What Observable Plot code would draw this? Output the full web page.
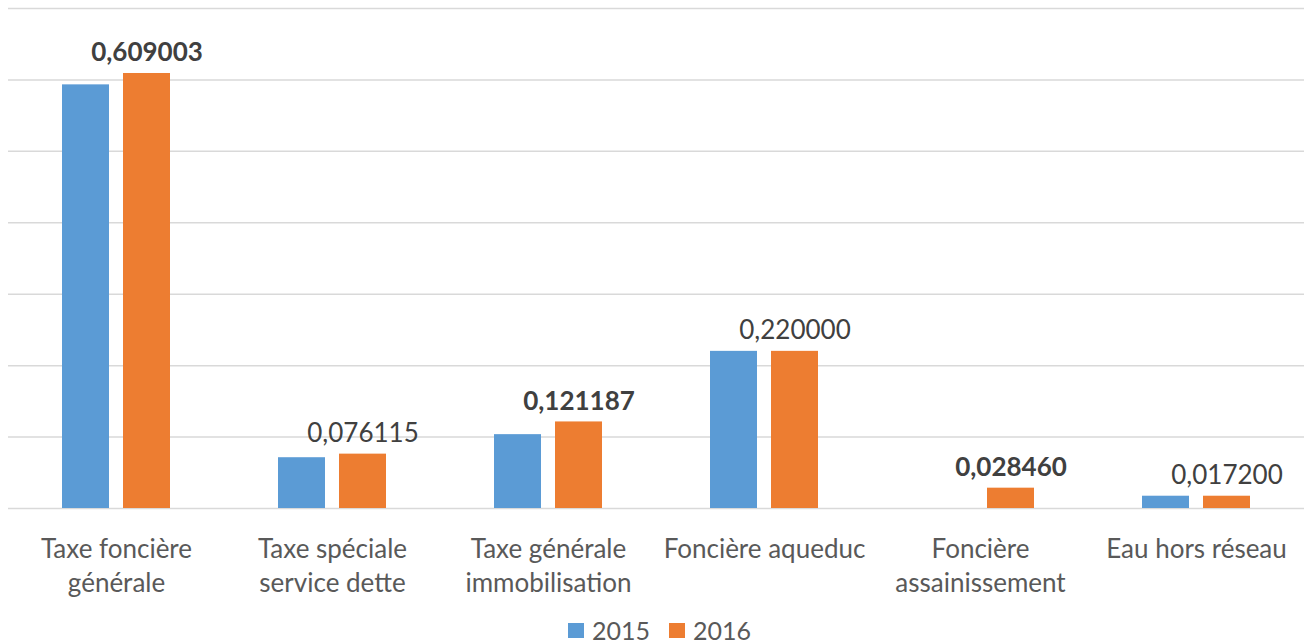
<!DOCTYPE html>
<html><head><meta charset="utf-8">
<script src="https://cdn.jsdelivr.net/npm/d3@7"></script>
<script src="https://cdn.jsdelivr.net/npm/@observablehq/plot@0.6"></script>
<style>
html,body{margin:0;padding:0;background:#fff;overflow:hidden;}
#chart{position:absolute;left:0;top:0;}
#legend{position:absolute;left:568px;top:616px;height:28px;line-height:28px;display:flex;align-items:center;font-family:Lato,"Open Sans",sans-serif;font-size:25px;color:#595959;}
#legend .sw{width:16px;height:15px;display:inline-block;margin-right:8px;}
#legend .item{display:flex;align-items:center;margin-right:19px;}
</style></head><body>
<div id="chart"></div>
<div id="legend"></div>
<script>
const categories = ["Taxe foncière générale","Taxe spéciale service dette","Taxe générale immobilisation","Foncière aqueduc","Foncière assainissement","Eau hors réseau"];
const tickLabels = ["Taxe foncière\ngénérale","Taxe spéciale\nservice dette","Taxe générale\nimmobilisation","Foncière aqueduc","Foncière\nassainissement","Eau hors réseau"];
const years = ["2015","2016"];
const values2015 = [0.5931, 0.0711, 0.1034, 0.220000, 0, 0.0172];
const values2016 = [0.609003, 0.076115, 0.121187, 0.220000, 0.028460, 0.017200];
const gridValues = [0, 0.1, 0.2, 0.3, 0.4, 0.5, 0.6, 0.7];
const boldCategories = ["Taxe foncière générale","Taxe générale immobilisation","Foncière assainissement"];

const colors = ["#5b9bd5", "#ed7d31"];
const rows = [];
categories.forEach((c, i) => {
  rows.push({category: c, year: "2015", value: values2015[i]});
  rows.push({category: c, year: "2016", value: values2016[i]});
});
const labeled = rows.filter(d => d.year === "2016");
const fmt = v => d3.format(".6f")(v).replace(".", ",");
const font = "Lato, 'Open Sans', sans-serif";

const chart = Plot.plot({
  width: 1306, height: 612,
  marginLeft: 8, marginRight: 2, marginTop: 8, marginBottom: 104,
  style: {fontFamily: font, color: "#595959", background: "#fff"},
  fx: {domain: categories, padding: 0, label: null},
  x: {domain: years, paddingInner: 0.226, paddingOuter: 0.855, axis: null},
  y: {domain: [0, 0.7], axis: null},
  color: {domain: years, range: colors},
  marks: [
    Plot.ruleY(gridValues, {stroke: "#d9d9d9", strokeWidth: 1.5}),
    Plot.barY(rows, {fx: "category", x: "year", y: "value", fill: "year"}),
    Plot.text(labeled.filter(d => boldCategories.includes(d.category)), {fx: "category", x: "year", y: "value", text: d => fmt(d.value), lineAnchor: "bottom", dy: -12, fontSize: 26, fontWeight: "bold", fill: "#404040"}),
    Plot.text(labeled.filter(d => !boldCategories.includes(d.category)), {fx: "category", x: "year", y: "value", text: d => fmt(d.value), lineAnchor: "bottom", dy: -12, fontSize: 26, fill: "#404040"}),
    Plot.axisFx({anchor: "bottom", tickSize: 0, tickPadding: 25, fontSize: 26, lineHeight: 1.32, label: null, tickFormat: d => tickLabels[categories.indexOf(d)]})
  ]
});
document.getElementById("chart").appendChild(chart);

const legend = document.getElementById("legend");
years.forEach((y, i) => {
  const item = document.createElement("span");
  item.className = "item";
  const sw = document.createElement("span");
  sw.className = "sw";
  sw.style.background = colors[i];
  item.appendChild(sw);
  item.appendChild(document.createTextNode(y));
  legend.appendChild(item);
});
</script>
</body></html>
